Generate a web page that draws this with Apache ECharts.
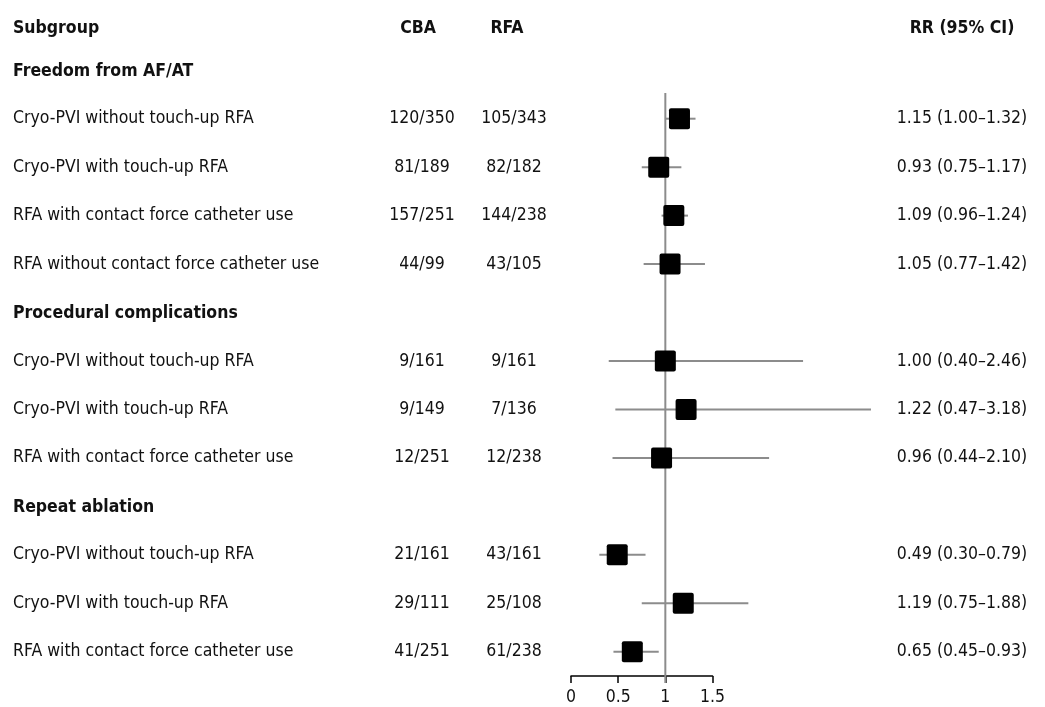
<!DOCTYPE html>
<html><head><meta charset="utf-8">
<script src="https://cdn.jsdelivr.net/npm/echarts@6/dist/echarts.min.js"></script>
<style>html,body{margin:0;padding:0;background:#fff}#c{width:1045px;height:707px}</style>
</head><body><div id="c"></div><script>
// ---- data ----
const columnHeaders = ['Subgroup', 'CBA', 'RFA', 'RR (95% CI)'];
const sectionTitles = ['Freedom from AF/AT', 'Procedural complications', 'Repeat ablation'];
const subgroupLabels = [
  'Cryo-PVI without touch-up RFA', 'Cryo-PVI with touch-up RFA',
  'RFA with contact force catheter use', 'RFA without contact force catheter use',
  'Cryo-PVI without touch-up RFA', 'Cryo-PVI with touch-up RFA',
  'RFA with contact force catheter use',
  'Cryo-PVI without touch-up RFA', 'Cryo-PVI with touch-up RFA',
  'RFA with contact force catheter use'
];
const subgroupSection = [0, 0, 0, 0, 1, 1, 1, 2, 2, 2];
const cbaEvents = ['120/350', '81/189', '157/251', '44/99', '9/161', '9/149', '12/251', '21/161', '29/111', '41/251'];
const rfaEvents = ['105/343', '82/182', '144/238', '43/105', '9/161', '7/136', '12/238', '43/161', '25/108', '61/238'];
const rrValues = [1.15, 0.93, 1.09, 1.05, 1.00, 1.22, 0.96, 0.49, 1.19, 0.65];
const ciLower  = [1.00, 0.75, 0.96, 0.77, 0.40, 0.47, 0.44, 0.30, 0.75, 0.45];
const ciUpper  = [1.32, 1.17, 1.24, 1.42, 2.46, 3.18, 2.10, 0.79, 1.88, 0.93];
const axisMin = 0, axisMax = 1.5, axisStep = 0.5;
const referenceValue = 1;

// ---- build rows ----
const rows = [];
sectionTitles.forEach((t, s) => {
  rows.push({ kind: 'section', text: t });
  subgroupLabels.forEach((lab, i) => {
    if (subgroupSection[i] === s) {
      rows.push({ kind: 'item', text: lab, cba: cbaEvents[i], rfa: rfaEvents[i],
        rr: rrValues[i], lo: ciLower[i], hi: ciUpper[i],
        rrText: rrValues[i].toFixed(2) + ' (' + ciLower[i].toFixed(2) + '\u2013' + ciUpper[i].toFixed(2) + ')' });
    }
  });
});
const yCats = rows.map((r, i) => String(i));
const firstItem = rows.findIndex(r => r.kind === 'item');
const lastItem = rows.length - 1;

const FONT = "'DejaVu Sans Condensed', 'DejaVu Sans', sans-serif";
const FS = 17.5;
const TXT = '#111';
const GRAY = '#8c8c8c';
const COL_LABEL = 13, COL_CBA = 422, COL_RFA = 514, COL_RR = 962;
const HEAD_Y = 28;

const chart = echarts.init(document.getElementById('c'), null, { renderer: 'canvas' });
chart.setOption({
  animation: false,
  backgroundColor: '#fff',
  grid: { left: 571, width: 141.5, top: 46, height: 630 },
  xAxis: {
    type: 'value', min: axisMin, max: axisMax, interval: axisStep,
    axisLine: { show: true, lineStyle: { color: '#000', width: 1.5 } },
    axisTick: { show: true, length: 7, lineStyle: { color: '#000', width: 1.5 } },
    axisLabel: { fontSize: FS, fontFamily: FONT, color: TXT, margin: 12 },
    splitLine: { show: false }
  },
  yAxis: { type: 'category', inverse: true, data: yCats, show: false },
  graphic: [
    { type: 'text', x: COL_LABEL, y: HEAD_Y, style: { text: columnHeaders[0], align: 'left', verticalAlign: 'middle', fontSize: FS, fontWeight: 'bold', fontFamily: FONT, fill: TXT } },
    { type: 'text', x: 418, y: HEAD_Y, style: { text: columnHeaders[1], align: 'center', verticalAlign: 'middle', fontSize: FS, fontWeight: 'bold', fontFamily: FONT, fill: TXT } },
    { type: 'text', x: 507, y: HEAD_Y, style: { text: columnHeaders[2], align: 'center', verticalAlign: 'middle', fontSize: FS, fontWeight: 'bold', fontFamily: FONT, fill: TXT } },
    { type: 'text', x: COL_RR, y: HEAD_Y, style: { text: columnHeaders[3], align: 'center', verticalAlign: 'middle', fontSize: FS, fontWeight: 'bold', fontFamily: FONT, fill: TXT } }
  ],
  series: [
    {
      type: 'custom', name: 'reference', clip: false, silent: true, z: 1,
      data: [[referenceValue, firstItem, lastItem]],
      encode: { x: 0, y: 1 },
      renderItem: function (params, api) {
        const band = api.size([0, 1])[1];
        const top = api.coord([api.value(0), api.value(1)]);
        const bot = api.coord([api.value(0), api.value(2)]);
        return { type: 'line', shape: { x1: top[0], y1: top[1] - band / 2 - 1.5, x2: bot[0], y2: bot[1] + band / 2 + 7 },
          style: { stroke: GRAY, lineWidth: 2 } };
      }
    },
    {
      type: 'custom', name: 'RR', clip: false, silent: true, z: 2,
      data: rows.map((r, i) => r.kind === 'item' ? [r.rr, i, r.lo, r.hi] : null).filter(d => d),
      encode: { x: 0, y: 1 },
      renderItem: function (params, api) {
        const p = api.coord([api.value(0), api.value(1)]);
        const lo = api.coord([api.value(2), api.value(1)]);
        const hi = api.coord([api.value(3), api.value(1)]);
        const s = 21;
        return { type: 'group', children: [
          { type: 'line', shape: { x1: lo[0], y1: lo[1], x2: hi[0], y2: hi[1] }, style: { stroke: GRAY, lineWidth: 2 } },
          { type: 'rect', shape: { x: p[0] - s / 2, y: p[1] - s / 2, width: s, height: s, r: 2 }, style: { fill: '#000' } }
        ] };
      }
    },
    {
      type: 'custom', name: 'table', clip: false, silent: true, z: 3,
      data: rows.map((r, i) => [0, i]),
      encode: { x: 0, y: 1 },
      renderItem: function (params, api) {
        const idx = api.value(1);
        const r = rows[idx];
        const y = api.coord([0, idx])[1];
        const base = { verticalAlign: 'middle', fontSize: FS, fontFamily: FONT, fill: TXT };
        if (r.kind === 'section') {
          return { type: 'text', style: Object.assign({}, base, { x: COL_LABEL, y: y + 1, text: r.text, align: 'left', fontWeight: 'bold' }) };
        }
        return { type: 'group', children: [
          { type: 'text', style: Object.assign({}, base, { x: COL_LABEL, y: y, text: r.text, align: 'left' }) },
          { type: 'text', style: Object.assign({}, base, { x: COL_CBA, y: y, text: r.cba, align: 'center' }) },
          { type: 'text', style: Object.assign({}, base, { x: COL_RFA, y: y, text: r.rfa, align: 'center' }) },
          { type: 'text', style: Object.assign({}, base, { x: COL_RR, y: y, text: r.rrText, align: 'center' }) }
        ] };
      }
    }
  ]
});
</script></body></html>
